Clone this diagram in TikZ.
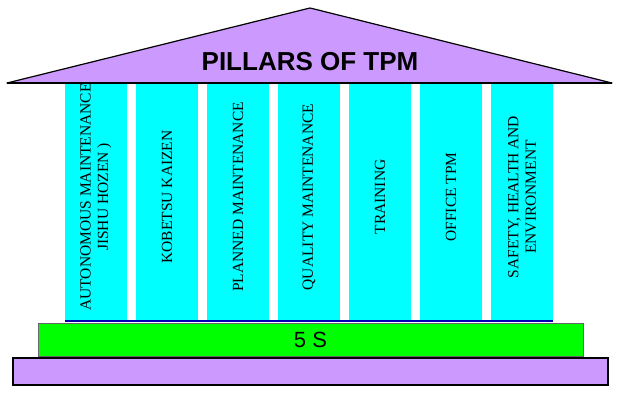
\documentclass[tikz,border=0pt]{standalone}
\usepackage{fontspec}
\setmainfont{Liberation Serif}
\newfontfamily\arialfont{Liberation Sans}
\usepackage{tikz}
\definecolor{pillarcyan}{RGB}{0,255,255}
\definecolor{roofviolet}{RGB}{204,153,255}
\definecolor{stepgreen}{RGB}{0,255,0}

\begin{document}
\begin{tikzpicture}[x=1pt,y=-1pt,
        pillar/.style={fill=pillarcyan,minimum width=62pt,minimum height=238pt,inner sep=0pt},
        pillartext/.style={rotate=90,align=center,font=\fontsize{15.5}{17.5}\selectfont,inner sep=0pt},
        roof/.style={fill=roofviolet,draw=black,line width=1.2pt,line join=round}
    ]
    \useasboundingbox (0,0) rectangle (640,414);
    % pillars
    \foreach \i/\txt in {1/{AUTONOMOUS MAINTENANCE\\JISHU HOZEN )},2/{KOBETSU KAIZEN},
            3/{PLANNED MAINTENANCE},4/{QUALITY MAINTENANCE},5/{TRAINING},
            6/{OFFICE TPM},7/{SAFETY, HEALTH AND\\ENVIRONMENT}}{
        \node[pillar] (p\i) at ({25+71*\i},202) {};
        \node[pillartext] (t\i) at ([yshift=5pt]p\i.center) {\txt};
    }
    \draw[blue!70!black,line width=1.5pt] (p1.south west) -- (p7.south east);
    % roof
    \coordinate (rl) at (7,83);
    \coordinate (rt) at (310,8);
    \coordinate (rr) at (612,83);
    \filldraw[roof] (rl) -- (rt) -- (rr) -- cycle;
    \draw[line width=2pt] (rl) -- (rr);
    \node[font=\arialfont\bfseries\fontsize{26}{30}\selectfont] (title) at (310,62) {PILLARS OF TPM};
    % foundation
    \node[fill=stepgreen,draw=black!60,minimum width=545pt,minimum height=33pt,inner sep=0pt,
        font=\arialfont\fontsize{22}{26}\selectfont] (fives) at (310.5,339.5) {5 S};
    \node[fill=roofviolet,draw=black,line width=2pt,minimum width=595pt,minimum height=27pt,
        inner sep=0pt] (base) at (310.5,371) {};
\end{tikzpicture}
\end{document}
